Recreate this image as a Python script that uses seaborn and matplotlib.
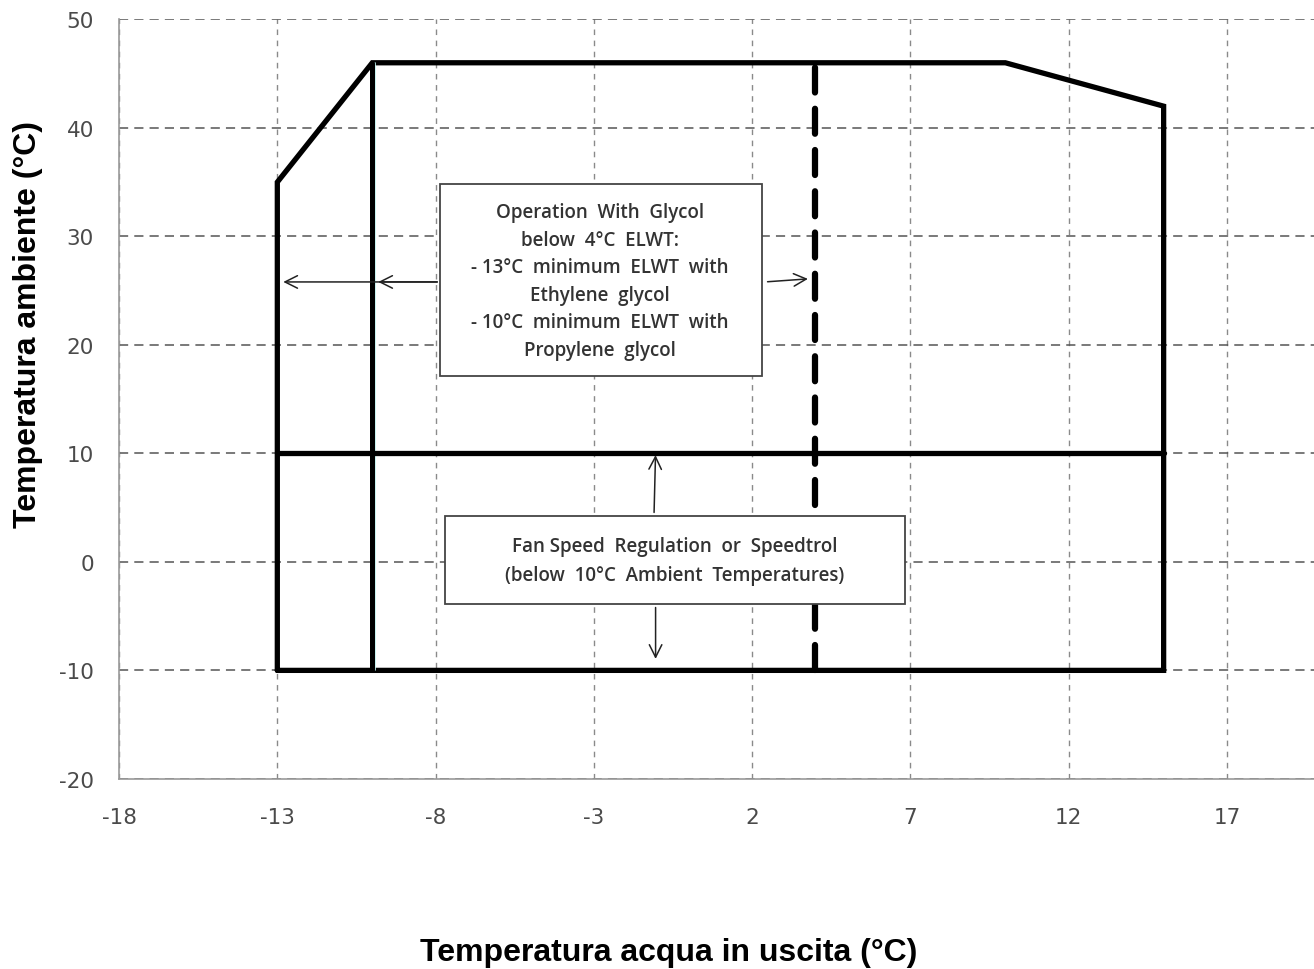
import matplotlib
matplotlib.use("Agg")
import matplotlib.pyplot as plt
import seaborn as sns
import pandas as pd

# operating envelope (leaving water temp, ambient temp)
env_x = [-13, -13, -10, 10, 15, 15, -13]
env_y = [-10, 35, 46, 46, 42, -10, -10]

# internal limit lines
glycol_x = -10
glycol_y = [-10, 46]
fan_y = 10
fan_x = [-13, 15]
elwt_x = 4
elwt_y = [-10, 46]

x_ticks = [-18, -13, -8, -3, 2, 7, 12, 17]
y_ticks = [-20, -10, 0, 10, 20, 30, 40, 50]

glycol_text = ("Operation  With  Glycol\nbelow  4°C  ELWT:\n- 13°C  minimum  ELWT  with\n"
               "Ethylene  glycol\n- 10°C  minimum  ELWT  with\nPropylene  glycol")
fan_text = "Fan Speed  Regulation  or  Speedtrol\n(below  10°C  Ambient  Temperatures)"

sns.set_style("white")
plt.rcParams['font.family'] = ['DejaVu Sans']
plt.rcParams['axes.unicode_minus'] = False

fig = plt.figure(figsize=(13.14, 9.70), dpi=100)
ax = fig.add_axes([0.0906, 0.196, 0.9094, 0.783])

ax.set_xlim(-18, 19.75)
ax.set_ylim(-20, 50)
ax.set_xticks(x_ticks)
ax.set_yticks(y_ticks)

# grid
ax.xaxis.grid(True, color="#8a8a8a", linestyle=(0, (4, 4)), linewidth=1.0)
ax.yaxis.grid(True, color="#555555", linestyle=(0, (6, 4)), linewidth=1.1)
ax.set_axisbelow(True)

for s in ["top", "right"]:
    ax.spines[s].set_visible(False)
for s in ["left", "bottom"]:
    ax.spines[s].set_color("#9a9a9a")
    ax.spines[s].set_linewidth(1.2)

ax.tick_params(axis="both", which="both", length=6, color="#9a9a9a", labelsize=15.5,
               labelcolor="#4a4a4a", direction="out")
ax.tick_params(axis="x", pad=14)
ax.tick_params(axis="y", pad=12)

env = pd.DataFrame({"x": env_x, "y": env_y})
sns.lineplot(data=env, x="x", y="y", sort=False, estimator=None, ax=ax,
             color="black", linewidth=3.8, solid_joinstyle="miter")
ax.plot([glycol_x + 0.08] * 2, glycol_y, color="#bff2ef", linewidth=1.2)
sns.lineplot(x=[glycol_x, glycol_x], y=glycol_y, sort=False, estimator=None, ax=ax,
             color="black", linewidth=3.6)
sns.lineplot(x=fan_x, y=[fan_y, fan_y], sort=False, estimator=None, ax=ax,
             color="black", linewidth=3.8)
ax.plot([elwt_x, elwt_x], elwt_y, color="black", linewidth=4.5,
        linestyle=(0, (4, 2.6)), dash_capstyle="round")
ax.set_xlabel("")
ax.set_ylabel("")

rect_kw = dict(facecolor="white", edgecolor="#444444", linewidth=1.3, zorder=5)
txt_kw = dict(family="Open Sans", fontweight="semibold", color="#333333",
              ha="center", va="center", fontsize=13.5, linespacing=1.5, zorder=6)

# glycol box
ax.add_patch(plt.Rectangle((-7.86, 17.1), 10.16, 17.7, **rect_kw))
ax.text(-2.8, 25.9, glycol_text, **txt_kw)

# fan box
ax.add_patch(plt.Rectangle((-7.71, -3.87), 14.53, 8.1, **rect_kw))
ax.text(-0.45, 0.15, fan_text, **dict(txt_kw, linespacing=1.6))

arr = dict(arrowstyle="->,head_length=0.9,head_width=0.45", color="#222222", linewidth=1.1)
ax.annotate("", xy=(-12.9, 25.8), xytext=(-7.86, 25.8), arrowprops=arr)
ax.annotate("", xy=(-9.9, 25.8), xytext=(-7.86, 25.8), arrowprops=arr)
ax.annotate("", xy=(3.85, 26.1), xytext=(2.4, 25.8), arrowprops=arr)
ax.annotate("", xy=(-1.05, 10.1), xytext=(-1.1, 4.3), arrowprops=arr)
ax.annotate("", xy=(-1.05, -9.2), xytext=(-1.05, -3.95), arrowprops=arr)

fig.text(0.509, 0.018, "Temperatura acqua in uscita (°C)", ha="center", va="center",
         family="Liberation Sans", fontweight="bold", fontsize=23, color="black")
fig.text(0.021, 0.665, "Temperatura ambiente (°C)", ha="center", va="center", rotation=90,
         family="Liberation Sans", fontweight="bold", fontsize=23, color="black")

fig.savefig("out.png", dpi=100)
